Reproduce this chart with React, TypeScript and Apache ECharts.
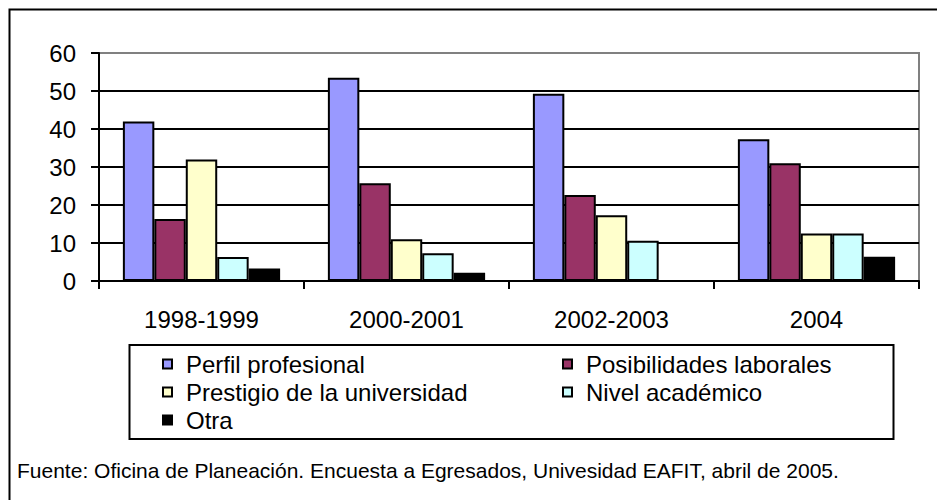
import React, { useEffect, useRef } from "react";
import * as echarts from "echarts";

const categories = ["1998-1999", "2000-2001", "2002-2003", "2004"];
const perfil = [42.0, 53.5, 49.3, 37.3];
const posibilidades = [16.3, 25.7, 22.6, 31.0];
const prestigio = [32.0, 11.0, 17.3, 12.5];
const nivel = [6.3, 7.3, 10.6, 12.5];
const otra = [3.3, 2.2, 0, 6.4];
const seriesNames = [
  "Perfil profesional",
  "Posibilidades laborales",
  "Prestigio de la universidad",
  "Nivel académico",
  "Otra",
];
const seriesColors = ["#9999FF", "#993366", "#FFFFCC", "#CCFFFF", "#000000"];
const seriesData = [perfil, posibilidades, prestigio, nivel, otra];
const footer =
  "Fuente: Oficina de Planeación. Encuesta a Egresados, Univesidad EAFIT, abril de 2005.";

const FONT = "'Liberation Sans', Arial, sans-serif";

export default function App() {
  const ref = useRef<HTMLDivElement>(null);
  useEffect(() => {
    document.body.style.margin = "0";
    const chart = echarts.init(ref.current!, null, { renderer: "svg" });
    const legendText = {
      fontFamily: FONT,
      fontSize: 24,
      lineHeight: 24,
      color: "#000",
      padding: [0, 0, 0, 9],
    };
    chart.setOption({
      animation: false,
      backgroundColor: "#fff",
      grid: {
        left: 99,
        right: 18,
        top: 53,
        bottom: 219,
        show: true,
        borderColor: "#808080",
        borderWidth: 2,
        backgroundColor: "transparent",
      },
      xAxis: {
        type: "category",
        data: categories,
        axisLine: { lineStyle: { color: "#000", width: 2 } },
        axisTick: { show: true, length: 8, lineStyle: { color: "#000", width: 2 } },
        axisLabel: {
          fontFamily: FONT,
          fontSize: 24,
          lineHeight: 24,
          color: "#000",
          margin: 26,
        },
      },
      yAxis: {
        type: "value",
        min: 0,
        max: 60,
        interval: 10,
        axisLine: { show: true, lineStyle: { color: "#000", width: 2 } },
        axisTick: { show: true, length: 8, lineStyle: { color: "#000", width: 2 } },
        axisLabel: {
          fontFamily: FONT,
          fontSize: 24,
          color: "#000",
          margin: 23,
        },
        splitLine: {
          show: true,
          showMaxLine: false,
          lineStyle: { color: "#000", width: 2 },
        },
      },
      legend: [
        {
          orient: "vertical",
          left: 162,
          top: 352,
          padding: 0,
          itemGap: 4,
          itemWidth: 9,
          itemHeight: 9,
          icon: "rect",
          data: [seriesNames[0], seriesNames[2], seriesNames[4]],
          textStyle: legendText,
        },
        {
          orient: "vertical",
          left: 562,
          top: 352,
          padding: 0,
          itemGap: 4,
          itemWidth: 9,
          itemHeight: 9,
          icon: "rect",
          data: [seriesNames[1], seriesNames[3]],
          textStyle: legendText,
        },
      ],
      series: seriesNames.map((name, i) => ({
        name,
        type: "bar",
        data: seriesData[i],
        barGap: "0%",
        barCategoryGap: "23.3%",
        itemStyle: {
          color: seriesColors[i],
          borderColor: "#000",
          borderWidth: 2,
        },
      })),
      graphic: [
        {
          type: "rect",
          shape: { x: 9.5, y: 9.5, width: 1000, height: 600 },
          style: { fill: "none", stroke: "#000", lineWidth: 2 },
          silent: true,
        },
        {
          type: "rect",
          shape: { x: 129.5, y: 345, width: 764, height: 94 },
          style: { fill: "none", stroke: "#000", lineWidth: 2 },
          silent: true,
        },
        {
          type: "text",
          x: 17,
          y: 470,
          style: {
            text: footer,
            font: `21px ${FONT}`,
            fill: "#000",
            verticalAlign: "middle",
          },
          silent: true,
        },
      ],
    });
    return () => chart.dispose();
  }, []);
  return <div ref={ref} style={{ width: 937, height: 500 }} />;
}
